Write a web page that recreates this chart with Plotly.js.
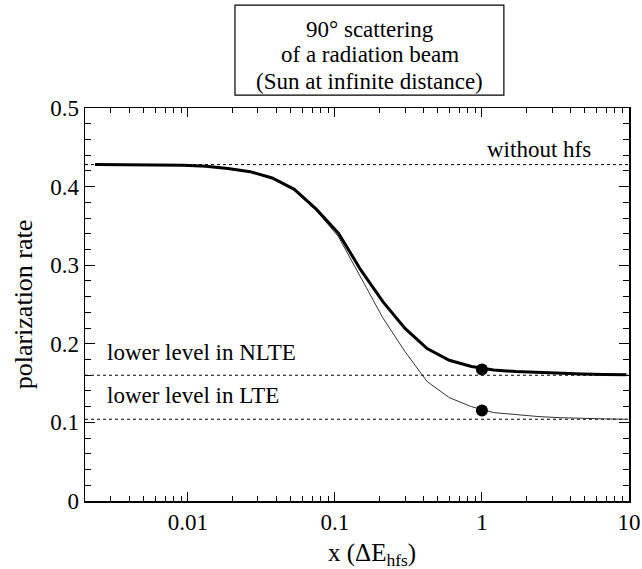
<!DOCTYPE html>
<html>
<head>
<meta charset="utf-8">
<script src="https://cdn.plot.ly/plotly-3.0.1.min.js"></script>
<style>
  html, body { margin: 0; padding: 0; background: #fff; }
  #chart { width: 642px; height: 569px; }
</style>
</head>
<body>
<div id="chart"></div>
<script>
// ---- data ----
const xGrid = [0.00234, 0.00331, 0.00469, 0.00663, 0.00938, 0.01326, 0.01875, 0.0265, 0.0375, 0.053,
               0.075, 0.106, 0.15, 0.212, 0.3, 0.424, 0.6, 0.849, 1.2, 1.7, 2.4, 3.39, 4.8, 6.79, 9.6];
const nlteRate = [0.428, 0.428, 0.428, 0.4278, 0.4272, 0.426, 0.423, 0.419, 0.411, 0.3965,
                  0.371, 0.3405, 0.294, 0.2536, 0.2195, 0.194, 0.179, 0.1712, 0.1667, 0.1647,
                  0.1635, 0.1625, 0.1617, 0.161, 0.1605];
const lteRate  = [0.428, 0.428, 0.428, 0.4278, 0.4272, 0.426, 0.423, 0.419, 0.4105, 0.3955,
                  0.3695, 0.336, 0.285, 0.233, 0.19, 0.152, 0.1315, 0.12, 0.1125, 0.1095,
                  0.1075, 0.106, 0.105, 0.1045, 0.104];
const dotX = [1, 1];
const dotY = [0.1672, 0.115];
const levelNames  = ["without hfs", "lower level in NLTE", "lower level in LTE"];
const levelValues = [0.428, 0.16, 0.104];
const xTickVals = [0.01, 0.1, 1, 10];
const xTickText = ["0.01", "0.1", "1", "10"];
const xLimits = [0.002, 10];
const yLimits = [0, 0.5];
const titleLines = ["90° scattering", "of a radiation beam", "(Sun at infinite distance)"];
const xTitle = "x (ΔE<sub>hfs</sub>)";
const yTitle = "polarization rate";

// ---- build ----
const FONT = "'Liberation Serif', 'Times New Roman', Times, serif";
const traces = [];
levelValues.forEach((v, i) => {
  traces.push({
    x: xLimits, y: [v, v], type: 'scatter', mode: 'lines',
    line: { color: '#000', width: 1, dash: 'dot' }, hoverinfo: 'skip', name: levelNames[i]
  });
});
traces.push({ x: xGrid, y: lteRate, type: 'scatter', mode: 'lines',
  line: { color: '#333', width: 1 }, name: 'LTE' });
traces.push({ x: xGrid, y: nlteRate, type: 'scatter', mode: 'lines',
  line: { color: '#000', width: 3 }, name: 'NLTE' });
traces.push({ x: dotX, y: dotY, type: 'scatter', mode: 'markers',
  marker: { color: '#000', size: 12 }, name: 'x=1' });

// minor tick values: 2..9 in each decade
const minorX = [];
for (let e = -3; e <= 0; e++) for (let m = 2; m <= 9; m++) minorX.push(m * Math.pow(10, e));

const txt = (size) => ({ family: FONT, size: size, color: '#000' });
const titleY = [1.201, 1.135, 1.067];
const annotations = titleLines.map((t, i) => ({
  text: t, xref: 'paper', yref: 'paper', x: 0.523, y: titleY[i],
  xanchor: 'center', yanchor: 'middle', showarrow: false, font: txt(23)
}));
annotations.push(
  { text: levelNames[0], xref: 'paper', yref: 'y', x: 0.934, y: 0.447, xanchor: 'right', yanchor: 'middle',
    showarrow: false, font: txt(23) },
  { text: levelNames[1], xref: 'paper', yref: 'y', x: 0.037, y: 0.189, xanchor: 'left', yanchor: 'middle',
    showarrow: false, font: txt(23) },
  { text: levelNames[2], xref: 'paper', yref: 'y', x: 0.037, y: 0.134, xanchor: 'left', yanchor: 'middle',
    showarrow: false, font: txt(23) },
  { text: xTitle, xref: 'paper', yref: 'paper', x: 0.527, y: -0.137, xanchor: 'center', yanchor: 'middle',
    showarrow: false, font: txt(25) }
);

const layout = {
  width: 642, height: 569,
  margin: { l: 85, r: 13, t: 108, b: 68 },
  paper_bgcolor: '#fff', plot_bgcolor: '#fff',
  showlegend: false,
  font: txt(23),
  xaxis: {
    type: 'log', range: [Math.log10(xLimits[0]), Math.log10(xLimits[1])],
    tickmode: 'array', tickvals: xTickVals, ticktext: xTickText,
    ticks: 'inside', ticklen: 9, tickwidth: 1, tickcolor: '#000',
    minor: { tickmode: 'array', tickvals: minorX, ticks: 'inside', ticklen: 5, tickwidth: 1, tickcolor: '#000', showgrid: false },
    showline: true, linecolor: '#000', linewidth: 1.5, mirror: 'ticks',
    showgrid: false, zeroline: false,
    tickfont: txt(23)
  },
  yaxis: {
    range: yLimits, tickmode: 'linear', tick0: 0, dtick: 0.1,
    ticks: 'inside', ticklen: 10, tickwidth: 1, tickcolor: '#000',
    minor: { dtick: 0.02, ticks: 'inside', ticklen: 6, tickwidth: 1, tickcolor: '#000', showgrid: false },
    showline: true, linecolor: '#000', linewidth: 1.5, mirror: 'ticks',
    showgrid: false, zeroline: false,
    tickfont: txt(23),
    title: { text: yTitle, font: txt(26), standoff: 10 }
  },
  shapes: [
    { type: 'rect', xref: 'paper', yref: 'paper', x0: 0.2757, x1: 0.770, y0: 1.033, y1: 1.262,
      line: { color: '#000', width: 1.2 }, fillcolor: 'rgba(0,0,0,0)' }
  ],
  annotations: annotations
};

Plotly.newPlot('chart', traces, layout, { displayModeBar: false, staticPlot: true });
</script>
</body>
</html>
